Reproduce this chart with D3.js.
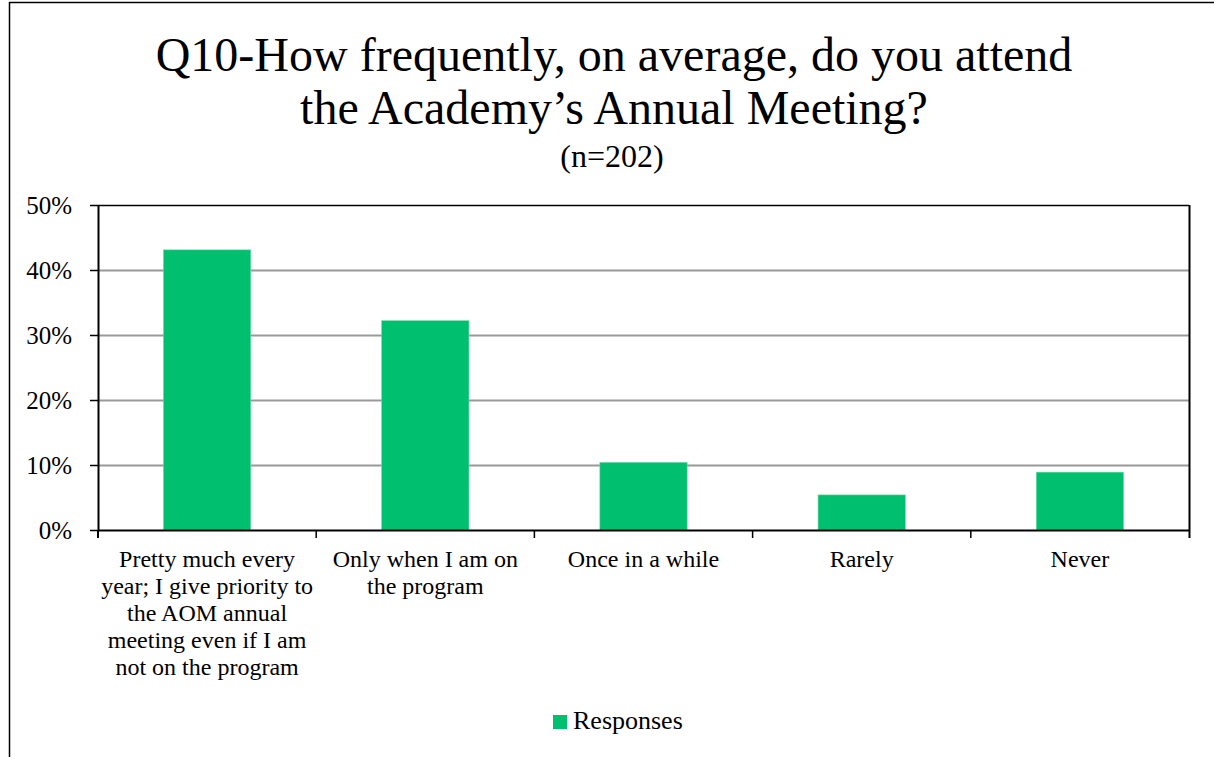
<!DOCTYPE html>
<html>
<head>
<meta charset="utf-8">
<script src="https://cdn.jsdelivr.net/npm/d3@7"></script>
<style>
  html, body { margin: 0; padding: 0; background: #fff; }
  svg { display: block; }
  text { font-family: "Liberation Serif", "Times New Roman", serif; fill: #000; }
</style>
</head>
<body>
<svg id="chart" width="1214" height="757"></svg>
<script>
const titleLines = ["Q10-How frequently, on average, do you attend", "the Academy\u2019s Annual Meeting?"];
const subtitle = "(n=202)";
const categories = [
  ["Pretty much every", "year; I give priority to", "the AOM annual", "meeting even if I am", "not on the program"],
  ["Only when I am on", "the program"],
  ["Once in a while"],
  ["Rarely"],
  ["Never"]
];
const values = [0.431, 0.322, 0.104, 0.054, 0.089];
const yTicks = [0, 0.1, 0.2, 0.3, 0.4, 0.5];
const seriesName = "Responses";
const barColor = "#00BF6F";

const svg = d3.select("#chart");
const W = 1214, H = 757;
const plot = { left: 98, right: 1189, top: 205, bottom: 530 };

// outer chart frame (partially cropped)
svg.append("line").attr("x1", 9.5).attr("x2", W).attr("y1", 2.5).attr("y2", 2.5)
  .attr("stroke", "#000").attr("stroke-width", 1.5);
svg.append("line").attr("x1", 9.5).attr("x2", 9.5).attr("y1", 2).attr("y2", H)
  .attr("stroke", "#000").attr("stroke-width", 1.5);

const idx = categories.map((d, i) => i);
const x = d3.scaleBand().domain(idx).range([plot.left, plot.right]).paddingInner(0.6).paddingOuter(0.3);
const y = d3.scaleLinear().domain([0, 0.5]).range([plot.bottom, plot.top]);

// gridlines
svg.append("g").selectAll("line").data(yTicks.filter(t => t > 0 && t < 0.5)).join("line")
  .attr("x1", plot.left).attr("x2", plot.right)
  .attr("y1", d => Math.round(y(d)) + 0.5).attr("y2", d => Math.round(y(d)) + 0.5)
  .attr("stroke", "#999").attr("stroke-width", 2);

// bars
svg.append("g").selectAll("rect").data(values).join("rect")
  .attr("x", (d, i) => x(i)).attr("width", x.bandwidth())
  .attr("y", d => y(d)).attr("height", d => y(0) - y(d))
  .attr("fill", barColor).attr("stroke", "#6fd9a8").attr("stroke-width", 0.6);

// plot border top & right
svg.append("line").attr("x1", plot.left).attr("x2", plot.right).attr("y1", plot.top + 0.5).attr("y2", plot.top + 0.5)
  .attr("stroke", "#000").attr("stroke-width", 1.5);
svg.append("line").attr("x1", plot.right + 0.5).attr("x2", plot.right + 0.5).attr("y1", plot.top).attr("y2", plot.bottom + 8)
  .attr("stroke", "#000").attr("stroke-width", 2);

// y axis
const yAxis = d3.axisLeft(y).tickValues(yTicks).tickFormat(d3.format(".0%")).tickSize(8).tickSizeOuter(0);
const gy = svg.append("g").attr("transform", `translate(${plot.left},0)`).call(yAxis);
gy.attr("font-family", null).attr("font-size", null);
gy.select(".domain").attr("stroke", "#000").attr("stroke-width", 2);
gy.selectAll(".tick line").attr("stroke", "#000").attr("stroke-width", 1.5);
gy.selectAll(".tick text").attr("font-size", 25).attr("x", -26).attr("dy", "0.33em")
  .style("font-family", "'Liberation Serif', serif").attr("fill", "#000");
svg.append("line").attr("x1", plot.left).attr("x2", plot.left).attr("y1", plot.bottom).attr("y2", plot.bottom + 8)
  .attr("stroke", "#000").attr("stroke-width", 2);

// x axis line and boundary ticks
const bandStep = x.step();
const boundaries = idx.slice(1).map(i => x(i) - x.paddingInner() * bandStep / 2);
svg.append("line").attr("x1", plot.left).attr("x2", plot.right).attr("y1", plot.bottom + 0.5).attr("y2", plot.bottom + 0.5)
  .attr("stroke", "#000").attr("stroke-width", 2);
svg.append("g").selectAll("line").data(boundaries).join("line")
  .attr("x1", d => d).attr("x2", d => d).attr("y1", plot.bottom).attr("y2", plot.bottom + 8)
  .attr("stroke", "#000").attr("stroke-width", 1.5);

// category labels
const catG = svg.append("g");
categories.forEach((lines, i) => {
  const cx = x(i) + x.bandwidth() / 2;
  const t = catG.append("text").attr("text-anchor", "middle").attr("font-size", 24);
  lines.forEach((ln, j) => {
    t.append("tspan").attr("x", cx).attr("y", 567 + j * 27).text(ln);
  });
});

// title
const cxTitle = 614;
titleLines.forEach((ln, j) => {
  svg.append("text").attr("x", cxTitle).attr("y", 71 + j * 53).attr("text-anchor", "middle")
    .attr("font-size", 48).text(ln);
});
svg.append("text").attr("x", 612).attr("y", 167).attr("text-anchor", "middle")
  .attr("font-size", 32).text(subtitle);

// legend
svg.append("rect").attr("x", 553).attr("y", 715).attr("width", 14).attr("height", 14).attr("fill", barColor);
svg.append("text").attr("x", 573).attr("y", 729).attr("font-size", 26).text(seriesName);
</script>
</body>
</html>
